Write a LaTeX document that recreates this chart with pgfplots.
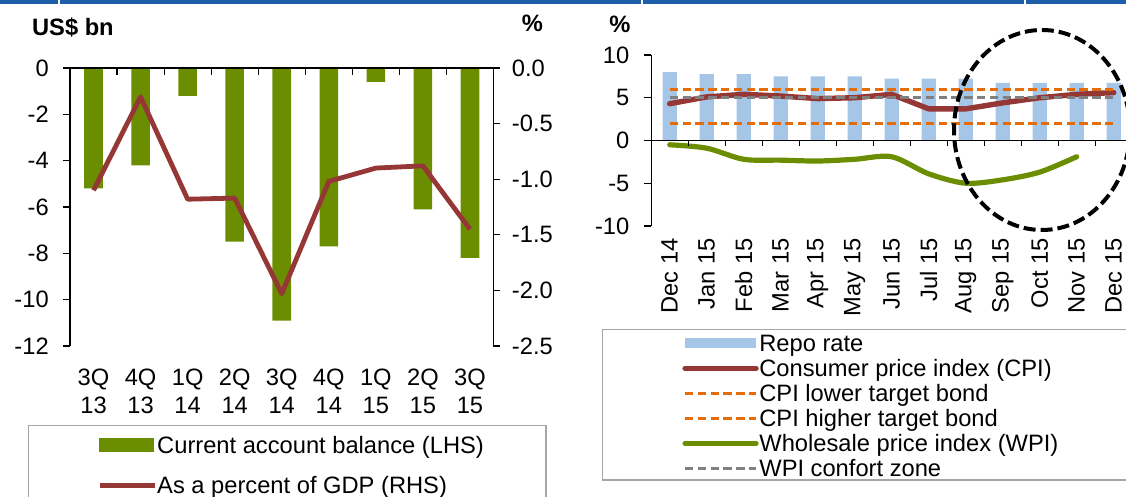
\documentclass[border=0pt]{standalone}
\usepackage{fontspec}
\setmainfont{Liberation Sans}
\usepackage{pgfplots}
\pgfplotsset{compat=1.18}
\definecolor{cagreen}{RGB}{107,142,0}
\definecolor{cared}{RGB}{149,55,53}
\definecolor{repoblue}{RGB}{166,198,232}
\definecolor{corange}{RGB}{228,108,10}
\definecolor{cgrey}{RGB}{128,128,128}
\definecolor{hblue}{RGB}{30,94,168}
\definecolor{lgbox}{RGB}{166,166,166}
\newcommand{\fs}{\fontsize{11.85}{14}\selectfont}
\pgfplotsset{
  baseax/.style={scale only axis, anchor=south west,
    /pgf/number format/assume math mode=true,
    tick label style={font=\fs},
    axis line style={line width=0.6pt, black},
    tick style={line width=0.6pt, black}, clip=false},
  Lax/.style={baseax, at={(35pt,75.5pt)}, width=211.75pt, height=139pt, xmin=-0.5, xmax=8.5},
  Rax/.style={baseax, at={(325.6pt,135.5pt)}, width=240.5pt, height=85.5pt, xmin=-0.5, xmax=12.5},
}
\begin{document}
\begin{tikzpicture}
% header bar
\fill[hblue] (0pt,246.35pt) rectangle (29pt,248.5pt);
\fill[hblue] (30pt,246.35pt) rectangle (320.25pt,248.5pt);
\fill[hblue] (321.25pt,246.35pt) rectangle (512pt,248.5pt);
\fill[hblue] (513pt,246.35pt) rectangle (563pt,248.5pt);
% legend boxes
\draw[lgbox, line width=0.65pt] (14.3pt,-3pt) rectangle (273pt,35.65pt);
\draw[lgbox, line width=0.65pt] (301.35pt,8.5pt) rectangle (570pt,83.85pt);
% titles
\node[anchor=base west, inner sep=0pt, font=\fs\bfseries] at (15.85pt,230.65pt) {US\$ bn};
\node[anchor=base, inner sep=0pt, font=\fs\bfseries] at (266.25pt,232.5pt) {\%};
\node[anchor=base, inner sep=0pt, font=\fs\bfseries] at (310pt,232.15pt) {\%};

% ---------- left chart ----------
\begin{axis}[Lax, ymin=-12, ymax=0, axis y line*=left, axis x line=none,
  ytick={-12,-10,-8,-6,-4,-2,0}, tick align=outside, major tick length=3.3pt,
  yticklabel style={xshift=-3.8pt}]
\addplot[ybar, bar width=9.3pt, fill=cagreen, draw=none] coordinates
  {(0,-5.2) (1,-4.2) (2,-1.2) (3,-7.5) (4,-10.9) (5,-7.7) (6,-0.6) (7,-6.1) (8,-8.2)};
\end{axis}

\begin{axis}[Lax, ymin=-2.5, ymax=0, axis y line*=right, axis x line=none,
  ytick={-2.5,-2,-1.5,-1,-0.5,0}, tick align=outside, major tick length=3.3pt,
  yticklabel style={xshift=2.4pt, /pgf/number format/fixed, /pgf/number format/fixed zerofill, /pgf/number format/precision=1},
  legend cell align=left,
  legend style={at={(0.0638,-0.3187)}, anchor=north west, draw=none, fill=none,
    inner sep=0pt, row sep=9.6pt, column sep=0pt,
    nodes={inner sep=0pt, text height=9.4pt, text depth=1pt, font=\fs}}]
\addlegendimage{legend image code/.code={\fill[cagreen] (0pt,-3.25pt) rectangle (27pt,3.25pt);}}
\addlegendentry{Current account balance (LHS)}
\addplot[cared, line width=2.4pt, line join=round,
  legend image code/.code={\draw[cared, line width=2.4pt] (0pt,0pt) -- (27.5pt,0pt);}] coordinates
  {(0,-1.10) (1,-0.26) (2,-1.18) (3,-1.17) (4,-2.03) (5,-1.02) (6,-0.90) (7,-0.88) (8,-1.45)};
\addlegendentry{As a percent of GDP (RHS)}
\end{axis}

\begin{axis}[Lax, ymin=-12, ymax=0, axis x line*=top, axis y line=none,
  xtick={0.5,1.5,2.5,3.5,4.5,5.5,6.5,7.5}, xticklabels={}, tick align=inside, major tick length=3.5pt]
\end{axis}

\begin{axis}[Lax, ymin=-12, ymax=0, axis x line*=bottom, axis y line=none,
  x axis line style={draw=none}, xtick={0,...,8}, major tick length=0pt,
  xticklabels={{3Q\\13},{4Q\\13},{1Q\\14},{2Q\\14},{3Q\\14},{4Q\\14},{1Q\\15},{2Q\\15},{3Q\\15}},
  xticklabel style={yshift=-11.5pt, align=center, inner sep=0pt, font=\fs}]
\end{axis}

% ---------- right chart ----------
\begin{axis}[Rax, ymin=-10, ymax=10, axis y line*=left, axis x line=none,
  ytick={-10,-5,0,5,10}, tick align=outside, major tick length=3.6pt,
  yticklabel style={xshift=-3.8pt},
  legend cell align=left,
  legend style={at={(0.064,-0.6234)}, anchor=north west, draw=none, fill=none,
    inner sep=0pt, row sep=2.1pt, column sep=0.3pt,
    nodes={inner sep=0pt, text height=9.4pt, text depth=1pt, font=\fs}}]
\addplot[ybar, bar width=7.15pt, fill=repoblue, draw=none,
  legend image code/.code={\fill[repoblue] (0pt,-2.5pt) rectangle (35.5pt,2.5pt);}] coordinates
  {(0,8.0) (1,7.75) (2,7.75) (3,7.5) (4,7.5) (5,7.5) (6,7.25) (7,7.25) (8,7.25) (9,6.75) (10,6.75) (11,6.75) (12,6.75)};
\addlegendentry{Repo rate}
\addplot[cared, line width=2.7pt, line join=round, line cap=round,
  legend image code/.code={\draw[cared, line width=2.7pt] (0pt,0pt) -- (35.5pt,0pt);}] coordinates
  {(0,4.3) (1,5.1) (2,5.4) (3,5.2) (4,4.9) (5,5.0) (6,5.4) (7,3.7) (8,3.7) (9,4.4) (10,5.0) (11,5.4) (12,5.6)};
\addlegendentry{Consumer price index (CPI)}
\addplot[corange, line width=1.65pt, dash pattern=on 4.2pt off 2.2pt,
  legend image code/.code={\draw[corange, line width=1.65pt, dash pattern=on 4.2pt off 2.2pt] (0pt,0pt) -- (35.5pt,0pt);}] coordinates
  {(0,2) (12,2)};
\addlegendentry{CPI lower target bond}
\addplot[corange, line width=1.65pt, dash pattern=on 4.2pt off 2.2pt,
  legend image code/.code={\draw[corange, line width=1.65pt, dash pattern=on 4.2pt off 2.2pt] (0pt,0pt) -- (35.5pt,0pt);}] coordinates
  {(0,6) (12,6)};
\addlegendentry{CPI higher target bond}
\addplot[cagreen, line width=2.6pt, smooth, tension=0.5, line cap=round,
  legend image code/.code={\draw[cagreen, line width=2.6pt] (0pt,0pt) -- (35.5pt,0pt);}] coordinates
  {(0,-0.5) (1,-0.9) (2,-2.2) (3,-2.3) (4,-2.4) (5,-2.2) (6,-1.9) (7,-3.9) (8,-5.0) (9,-4.6) (10,-3.7) (11,-1.9)};
\addlegendentry{Wholesale price index (WPI)}
\addplot[cgrey, line width=1.65pt, dash pattern=on 4.2pt off 2.2pt,
  legend image code/.code={\draw[cgrey, line width=1.65pt, dash pattern=on 4.2pt off 2.2pt] (0pt,0pt) -- (35.5pt,0pt);}] coordinates
  {(0,5) (12,5)};
\addlegendentry{WPI confort zone}
\end{axis}

\begin{axis}[baseax, at={(325.6pt,135.5pt)}, width=240.5pt, height=42.75pt,
  xmin=-0.5, xmax=12.5, ymin=-10, ymax=0, axis x line*=top, axis y line=none,
  xtick={0.5,1.5,2.5,3.5,4.5,5.5,6.5,7.5,8.5,9.5,10.5,11.5}, xticklabels={},
  tick align=inside, major tick length=3pt]
\end{axis}

\begin{axis}[Rax, ymin=-10, ymax=10, axis x line*=bottom, axis y line=none,
  x axis line style={draw=none}, xtick={0,...,12}, major tick length=0pt,
  xticklabels={Dec 14,Jan 15,Feb 15,Mar 15,Apr 15,May 15,Jun 15,Jul 15,Aug 15,Sep 15,Oct 15,Nov 15,Dec 15},
  xticklabel style={yshift=-6pt, rotate=90, anchor=east, inner sep=0pt, font=\fs}]
\end{axis}

% highlight ellipse
\draw[black, line width=2pt, dash pattern=on 6pt off 2.5pt] (521pt,183.5pt) ellipse [x radius=44pt, y radius=50pt];

\pgfresetboundingbox
\path[use as bounding box] (0pt,0pt) rectangle (563pt,248.5pt);
\end{tikzpicture}
\end{document}
